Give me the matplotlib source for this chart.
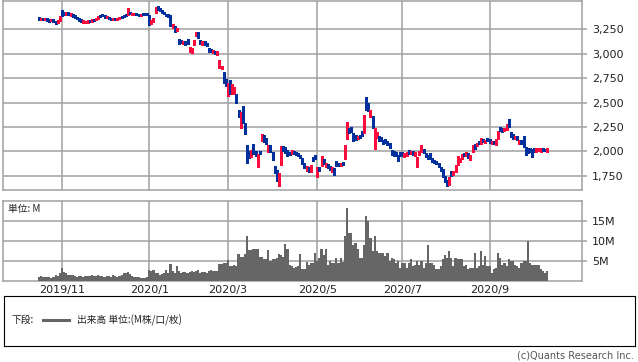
import numpy as np
import pandas as pd
import matplotlib
matplotlib.use('Agg')
import matplotlib.pyplot as plt

# Tokyo exchange holidays inside the charted period
holidays = ['2019-10-22', '2019-11-04', '2019-12-31', '2020-01-01', '2020-01-02',
            '2020-01-03', '2020-01-13', '2020-02-11', '2020-02-24', '2020-03-20',
            '2020-04-29', '2020-05-04', '2020-05-05', '2020-05-06', '2020-07-23',
            '2020-07-24', '2020-08-10', '2020-09-21', '2020-09-22']
dates = pd.bdate_range('2019-10-16', '2020-10-12', freq='C', holidays=holidays)

opens = [3370, 3352, 3365, 3350, 3362, 3350, 3340, 3352, 3335, 3322,
         3345, 3420, 3425, 3405, 3420, 3398, 3400, 3390, 3378, 3365,
         3350, 3322, 3318, 3325, 3340, 3335, 3350, 3345, 3365, 3395,
         3400, 3390, 3370, 3378, 3365, 3350, 3368, 3355, 3360, 3380,
         3395, 3405, 3400, 3420, 3400, 3405, 3412, 3408, 3395, 3410,
         3412, 3410, 3395, 3310, 3330, 3420, 3480, 3465, 3440, 3425,
         3400, 3405, 3390, 3275, 3280, 3240, 3145, 3135, 3110, 3125,
         3140, 3020, 3020, 3100, 3185, 3220, 3140, 3100, 3125, 3110,
         3050, 3045, 3010, 3025, 3000, 2860, 2850, 2810, 2740, 2580,
         2720, 2600, 2600, 2580, 2420, 2250, 2400, 2290, 2060, 1990,
         1950, 2030, 1990, 1860, 1990, 2120, 2165, 2130, 2000, 2060,
         1990, 1850, 1800, 1680, 1870, 2050, 2030, 2010, 1990, 1980,
         2000, 1985, 1980, 1960, 1930, 1880, 1810, 1840, 1800, 1930,
         1960, 1760, 1830, 1860, 1920, 1850, 1870, 1850, 1800, 1820,
         1900, 1880, 1860, 1890, 1930, 2195, 2230, 2250, 2180, 2160,
         2130, 2160, 2200, 2190, 2530, 2490, 2360, 2360, 2080, 2140,
         2150, 2140, 2110, 2120, 2100, 2080, 2010, 2000, 1990, 1960,
         1990, 1990, 1950, 1960, 2010, 1980, 2000, 1960, 1870, 1970,
         2000, 2020, 1980, 1960, 1980, 1930, 1910, 1900, 1880, 1840,
         1810, 1740, 1700, 1670, 1790, 1760, 1790, 1870, 1900, 1930,
         1980, 1960, 1980, 1920, 2000, 2070, 2060, 2100, 2080, 2120,
         2090, 2130, 2120, 2080, 2100, 2070, 2130, 2250, 2230, 2210,
         2220, 2310, 2190, 2170, 2130, 2150, 2080, 2110, 2150, 2040,
         2030, 2030, 2020, 2030, 2000, 2010, 2000, 2030, 2020, 1995]
highs = [3378, 3372, 3370, 3366, 3368, 3355, 3358, 3356, 3340, 3350,
         3390, 3445, 3430, 3428, 3424, 3415, 3405, 3394, 3382, 3370,
         3354, 3348, 3340, 3350, 3345, 3355, 3356, 3370, 3392, 3400,
         3406, 3395, 3386, 3382, 3370, 3370, 3372, 3372, 3378, 3386,
         3400, 3410, 3470, 3426, 3418, 3420, 3416, 3412, 3410, 3414,
         3418, 3414, 3400, 3352, 3366, 3478, 3495, 3470, 3446, 3430,
         3406, 3410, 3395, 3306, 3285, 3268, 3150, 3140, 3132, 3130,
         3150, 3070, 3056, 3145, 3220, 3225, 3145, 3135, 3130, 3115,
         3055, 3050, 3040, 3030, 3026, 2935, 2880, 2815, 2745, 2700,
         2730, 2690, 2660, 2590, 2425, 2400, 2470, 2295, 2070, 2000,
         2010, 2080, 2000, 1970, 2000, 2175, 2170, 2135, 2065, 2070,
         1995, 1855, 1805, 1780, 2060, 2060, 2040, 2015, 1995, 2010,
         2005, 1990, 1985, 1965, 1935, 1885, 1848, 1845, 1858, 1945,
         1965, 1840, 1835, 1950, 1925, 1885, 1875, 1855, 1835, 1825,
         1905, 1885, 1880, 1895, 2065, 2300, 2240, 2255, 2185, 2165,
         2155, 2165, 2205, 2375, 2560, 2500, 2420, 2365, 2240, 2195,
         2155, 2145, 2115, 2125, 2105, 2085, 2015, 2005, 1995, 1965,
         1995, 1995, 1980, 1995, 2015, 2005, 2005, 1995, 1945, 2005,
         2070, 2025, 1985, 1965, 1985, 1935, 1915, 1905, 1885, 1845,
         1815, 1745, 1705, 1740, 1795, 1795, 1865, 1955, 1935, 1975,
         1985, 1995, 1985, 1965, 2065, 2075, 2085, 2105, 2135, 2125,
         2115, 2135, 2125, 2105, 2105, 2125, 2205, 2255, 2235, 2235,
         2285, 2330, 2195, 2175, 2155, 2155, 2115, 2115, 2155, 2045,
         2035, 2035, 2025, 2035, 2030, 2035, 2035, 2035, 2025, 2035]
lows = [3350, 3345, 3345, 3342, 3340, 3322, 3335, 3325, 3311, 3318,
        3340, 3390, 3402, 3400, 3395, 3392, 3380, 3370, 3360, 3340,
        3325, 3318, 3312, 3320, 3326, 3330, 3338, 3342, 3360, 3380,
        3384, 3370, 3366, 3355, 3345, 3346, 3350, 3352, 3356, 3364,
        3380, 3386, 3396, 3405, 3396, 3400, 3396, 3390, 3390, 3396,
        3400, 3394, 3300, 3305, 3325, 3415, 3445, 3435, 3415, 3405,
        3388, 3380, 3285, 3270, 3222, 3235, 3100, 3115, 3105, 3095,
        3105, 3015, 3012, 3095, 3180, 3160, 3105, 3095, 3095, 3085,
        3015, 3020, 3005, 3000, 2985, 2850, 2840, 2700, 2670, 2570,
        2590, 2590, 2590, 2500, 2350, 2235, 2290, 2180, 1880, 1930,
        1940, 1970, 1950, 1835, 1975, 2110, 2100, 2080, 1990, 1995,
        1910, 1780, 1700, 1650, 1860, 2000, 1985, 1955, 1965, 1975,
        1970, 1960, 1955, 1935, 1870, 1830, 1800, 1790, 1790, 1905,
        1925, 1735, 1800, 1855, 1870, 1840, 1830, 1810, 1790, 1760,
        1855, 1855, 1855, 1865, 1925, 2130, 2190, 2200, 2110, 2115,
        2125, 2135, 2155, 2185, 2420, 2410, 2350, 2240, 2020, 2135,
        2105, 2105, 2075, 2085, 2065, 2035, 1960, 1955, 1955, 1900,
        1955, 1955, 1945, 1955, 1975, 1975, 1965, 1955, 1840, 1965,
        1995, 1985, 1945, 1925, 1920, 1895, 1885, 1875, 1845, 1800,
        1735, 1690, 1650, 1660, 1750, 1755, 1785, 1865, 1895, 1925,
        1955, 1955, 1935, 1915, 1995, 2025, 2055, 2075, 2075, 2095,
        2085, 2105, 2085, 2075, 2075, 2065, 2125, 2205, 2195, 2205,
        2215, 2255, 2145, 2125, 2125, 2115, 2075, 2075, 2040, 1965,
        1985, 1995, 1940, 1995, 1995, 2005, 1995, 2005, 2005, 1990]
closes = [3355, 3368, 3350, 3362, 3345, 3340, 3352, 3330, 3322, 3345,
          3383, 3395, 3410, 3422, 3400, 3410, 3385, 3375, 3365, 3345,
          3335, 3342, 3335, 3345, 3330, 3350, 3342, 3365, 3385, 3385,
          3388, 3375, 3380, 3360, 3350, 3365, 3355, 3368, 3372, 3370,
          3385, 3390, 3440, 3410, 3412, 3415, 3400, 3395, 3405, 3400,
          3405, 3398, 3305, 3345, 3360, 3470, 3450, 3440, 3420, 3410,
          3392, 3385, 3290, 3300, 3230, 3262, 3110, 3120, 3128, 3100,
          3110, 3065, 3050, 3140, 3215, 3165, 3110, 3130, 3100, 3090,
          3020, 3025, 3035, 3005, 3020, 2910, 2875, 2720, 2680, 2680,
          2600, 2680, 2650, 2510, 2360, 2390, 2300, 2190, 1920, 1940,
          2000, 1980, 1960, 1960, 1985, 2170, 2110, 2090, 2060, 2000,
          1920, 1790, 1720, 1770, 2040, 2010, 1990, 1960, 1970, 2000,
          1975, 1965, 1960, 1940, 1880, 1840, 1840, 1800, 1850, 1920,
          1930, 1830, 1810, 1940, 1880, 1880, 1840, 1820, 1830, 1780,
          1860, 1860, 1875, 1870, 2060, 2215, 2200, 2210, 2120, 2120,
          2150, 2140, 2160, 2370, 2430, 2420, 2410, 2250, 2230, 2190,
          2110, 2110, 2080, 2090, 2070, 2040, 1970, 1960, 1960, 1952,
          1960, 1960, 1975, 1990, 1980, 2000, 1970, 1990, 1940, 2000,
          2040, 1990, 1950, 1930, 1930, 1900, 1890, 1880, 1850, 1810,
          1740, 1700, 1670, 1730, 1760, 1790, 1860, 1950, 1930, 1970,
          1960, 1990, 1940, 1960, 2060, 2030, 2080, 2080, 2130, 2100,
          2110, 2110, 2090, 2100, 2080, 2120, 2200, 2210, 2200, 2230,
          2280, 2260, 2150, 2130, 2150, 2120, 2110, 2080, 2080, 1970,
          1990, 2000, 1980, 2000, 2025, 2030, 2030, 2010, 2010, 2030]
# volume in millions of shares
volume = [1.0, 1.1, 0.9, 1.0, 0.9, 0.8, 0.7, 0.9, 1.3, 1.2,
          1.9, 3.2, 2.2, 2.0, 1.4, 1.5, 1.3, 1.1, 1.0, 1.2,
          1.1, 1.0, 1.2, 1.1, 1.2, 1.3, 1.2, 1.1, 1.5, 1.2,
          1.1, 1.0, 1.2, 1.1, 1.0, 1.3, 1.1, 1.0, 1.2, 1.3,
          2.0, 1.8, 2.1, 1.6, 1.1, 1.0, 0.9, 1.0, 0.7, 0.6,
          0.7, 0.9, 2.6, 2.4, 2.6, 2.0, 1.8, 1.5, 1.6, 2.0,
          2.6, 1.8, 4.1, 2.3, 1.9, 3.6, 2.3, 2.0, 2.1, 2.2,
          1.9, 2.2, 2.4, 2.2, 2.4, 2.6, 1.8, 2.2, 2.2, 2.0,
          2.3, 2.6, 2.4, 2.4, 2.3, 4.2, 4.2, 4.4, 4.4, 5.1,
          3.6, 3.6, 3.8, 3.6, 6.6, 5.9, 5.9, 6.6, 11.1, 7.6,
          7.6, 7.9, 7.8, 8.0, 5.9, 5.9, 5.4, 5.4, 7.6, 5.0,
          5.5, 5.5, 5.6, 6.6, 6.4, 5.8, 9.1, 7.8, 4.0, 3.6,
          3.2, 3.4, 3.6, 6.7, 2.8, 2.8, 4.6, 4.0, 4.5, 4.5,
          7.0, 4.9, 5.7, 7.8, 6.5, 7.8, 4.0, 4.9, 4.5, 4.5,
          5.6, 4.5, 5.7, 4.6, 11.1, 18.2, 11.9, 11.9, 9.0, 9.5,
          7.8, 5.7, 5.7, 9.0, 16.1, 14.9, 10.7, 7.4, 11.1, 7.4,
          7.0, 7.0, 7.0, 6.1, 7.0, 4.9, 5.7, 5.3, 4.5, 4.9,
          3.2, 4.5, 4.5, 3.2, 4.5, 5.3, 3.6, 4.0, 4.9, 4.0,
          4.9, 3.2, 4.5, 9.0, 4.5, 4.5, 4.0, 2.8, 2.8, 3.6,
          5.3, 6.5, 5.7, 7.4, 5.7, 3.6, 5.7, 5.3, 5.3, 5.3,
          3.6, 4.0, 2.8, 3.2, 3.2, 7.0, 3.2, 3.6, 7.4, 4.0,
          6.1, 3.6, 3.6, 2.0, 2.8, 3.2, 7.0, 5.7, 4.0, 4.5,
          3.6, 5.3, 4.9, 4.9, 4.0, 3.6, 3.2, 4.5, 4.9, 4.9,
          9.9, 4.5, 4.0, 4.0, 4.0, 4.0, 2.8, 2.4, 2.0, 2.4]

price_ticks = [1750, 2000, 2250, 2500, 2750, 3000, 3250]
volume_ticks = [5, 10, 15]

RED = '#ff0a3c'
BLUE = '#00309c'
GRID = '#a0a0a0'
VOL = '#666666'
CJK = ['Noto Sans CJK JP', 'DejaVu Sans']

W, H = 638, 362
fig = plt.figure(figsize=(W / 100, H / 100), dpi=100)


def box(left, top, right, bottom):
    return [left / W, 1 - bottom / H, (right - left) / W, (bottom - top) / H]


ax = fig.add_axes(box(3.3, 0.5, 582.3, 190.3))
axv = fig.add_axes(box(3.3, 201, 582.3, 280.7))

n = min(len(dates), len(closes))
x = np.arange(n)
o = np.array(opens[:n], float)
hi = np.array(highs[:n], float)
lo = np.array(lows[:n], float)
c = np.array(closes[:n], float)
colors = np.where(c >= o, RED, BLUE)

# month ticks: first trading day of every odd month
month_idx = [i for i in range(1, n)
             if dates[i].month != dates[i - 1].month and dates[i].month % 2 == 1]
month_lbl = [f"{dates[i].year}/{dates[i].month}" for i in month_idx]

# candles, drawn crisp like the original bitmap chart
ax.vlines(x, lo, hi, colors=colors, lw=0.75, zorder=3, antialiased=False)
ax.bar(x, np.maximum(np.abs(c - o), 6), bottom=np.minimum(o, c), width=0.8,
       color=colors, linewidth=0, zorder=3, antialiased=False)

# volume
axv.bar(x, volume[:n], width=1.0, color=VOL, linewidth=0, zorder=3,
        antialiased=False)

for a in (ax, axv):
    a.set_xlim(-16.6, 255.6)
    a.set_xticks(month_idx)
    a.grid(True, color=GRID, lw=1.1)
    a.set_axisbelow(True)
    a.yaxis.tick_right()
    a.tick_params(axis='y', length=3.6, width=1.1, color=GRID, pad=3.5,
                  labelsize=8, labelcolor='#222222')
    for s in a.spines.values():
        s.set_color(GRID)
        s.set_linewidth(1.1)

ax.set_ylim(1601, 3547)
ax.set_yticks(price_ticks)
ax.set_yticklabels([f"{v:,}" for v in price_ticks])
ax.tick_params(axis='x', length=0, labelbottom=False)

axv.set_ylim(0, 19.9)
axv.set_yticks(volume_ticks)
axv.set_yticklabels([f"{v}M" for v in volume_ticks])
axv.set_xticklabels(month_lbl)
axv.tick_params(axis='x', length=0, pad=3, labelsize=8, labelcolor='#222222')

fig.text(8 / W, 1 - 209 / H, "単位: M", family=CJK, fontsize=7, va='center',
         color='#222222')

# legend box
axl = fig.add_axes(box(3.5, 295.5, 634.5, 346))
axl.set_xticks([])
axl.set_yticks([])
for s in axl.spines.values():
    s.set_color('black')
    s.set_linewidth(0.8)
fig.text(12 / W, 1 - 320 / H, "下段:", family=CJK, fontsize=7, va='center',
         color='#222222')
fig.add_artist(plt.Line2D([43 / W, 69 / W], [1 - 320 / H, 1 - 320 / H],
                          color=VOL, lw=2.2))
fig.text(77 / W, 1 - 320 / H, "出来高 単位:(M株/口/枚)", family=CJK, fontsize=7,
         va='center', color='#222222')

fig.text(634 / W, 1 - 356 / H, "(c)Quants Research Inc.", ha='right', va='center',
         fontsize=7, color='#555555')

fig.savefig('out.png', dpi=100)
